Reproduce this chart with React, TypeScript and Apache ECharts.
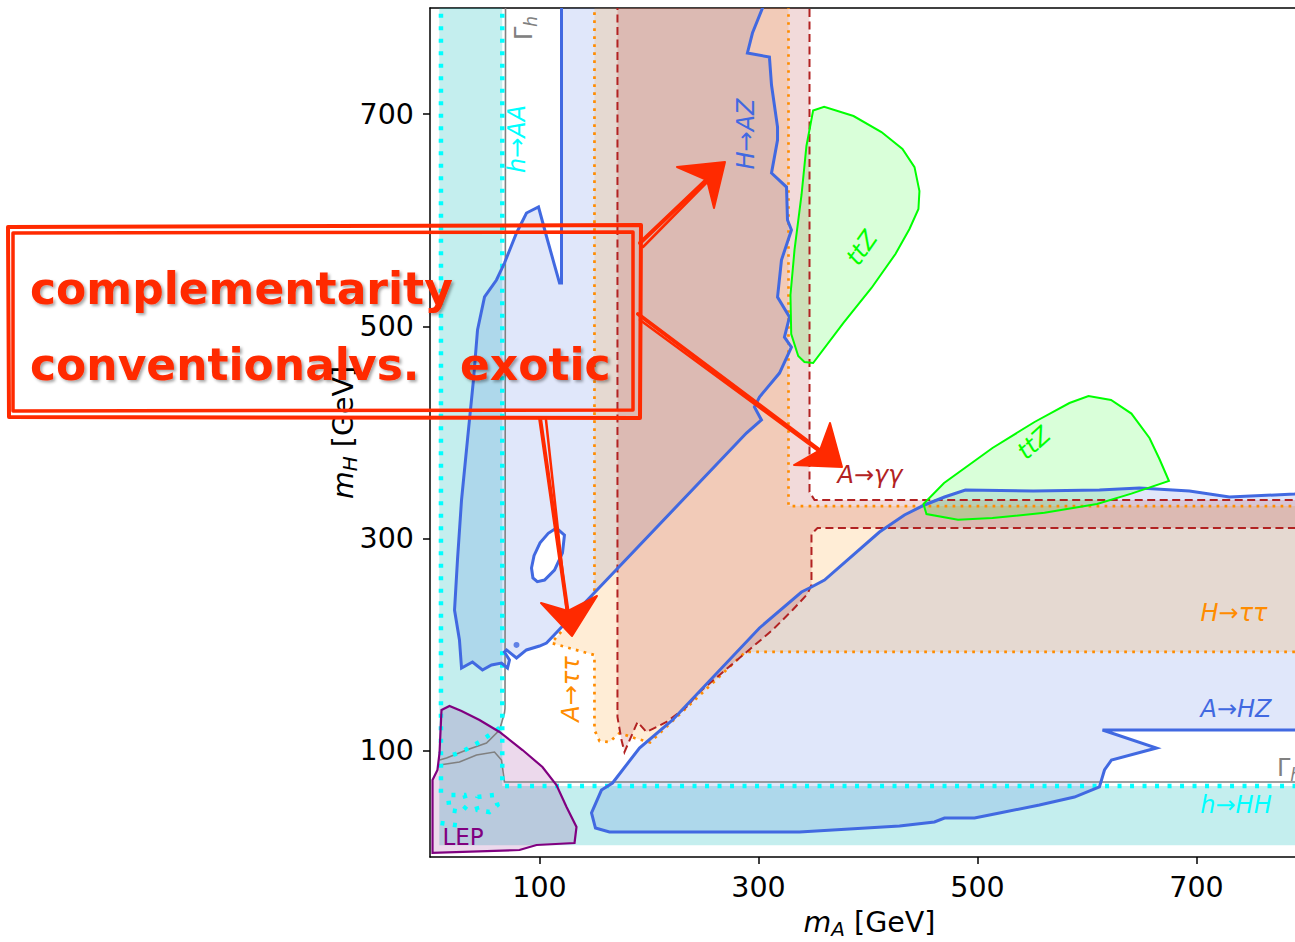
import React, { useEffect, useRef } from 'react';
import * as echarts from 'echarts';

// ---------- axis ticks ----------
const xTickValues = [100, 300, 500, 700];
const yTickValues = [100, 300, 500, 700];

// ---------- regions in (m_A, m_H) [GeV] ----------
// h -> AA / h -> HH (cyan)
const cyanFill = [[8.5, 11], [830, 11], [830, 67], [66, 67], [66, 830], [8.5, 830]];
const cyanEdgeRight = [[66, 830], [66, 67], [830, 67]];
const cyanEdgeLeft = [[10, 830], [10, 60]];
const cyanDiag = [[63.5, 121.6], [45.2, 108.4], [28.8, 98.9], [15.1, 94.2]];
const cyanLoopA = [[19.6, 58.4], [31.5, 58.4], [34.2, 49.0], [28.8, 42.4], [17.8, 44.3], [16.9, 53.7], [19.6, 58.4]];
const cyanLoopB = [[43.4, 56.5], [58.9, 58.4], [61.6, 49.0], [54.3, 42.4], [43.4, 44.3], [41.6, 50.9], [43.4, 56.5]];
const cyanBottom = [[9.6, 32], [28.8, 29.2]];

// Gamma_h (gray)
const gammaV = [[69, 830], [68.5, 140], [68, 135.7], [63.5, 119.7], [51.6, 107.4], [33.3, 100.8], [15.1, 93.3], [8.7, 91.4]];
const gammaH = [[8.7, 86.7], [26.9, 89.5], [42.5, 96.1], [58.9, 98.9], [65.3, 91.4], [68, 70.7], [830, 70.7]];

// H -> AZ (blue)
const hazRegion = [
  [120.1, 830], [315.4, 830], [303.7, 800], [294.5, 776.4], [289.9, 757.6], [310.0, 753.8], [311.9, 727.4],
  [317.4, 687.8], [317.4, 675.6], [311.9, 644.5], [325.6, 631.3], [326.5, 600.2], [330.1, 590.8], [321.0, 562.5],
  [317.4, 527.6], [328.3, 508.8], [323.7, 489.9], [330.1, 480.5], [319.2, 456.0], [300.9, 433.4], [296.3, 424.0],
  [302.7, 411.8], [289.0, 399.5], [106.4, 201.6], [100, 198.8], [88.1, 195.1], [79.0, 187.5], [69.9, 195.1],
  [68.0, 193.2], [72.6, 185.6], [70.8, 178.1], [65.3, 182.8], [56.2, 180.9], [47.9, 176.2], [38.8, 183.7],
  [28.8, 178.1], [26.9, 204.5], [22.4, 232.7], [25.1, 279.9], [28.8, 336.4], [34.2, 392.9], [39.7, 449.5],
  [43.4, 496.6], [49.8, 527.7], [60.7, 543.7], [68.0, 559.7], [79.0, 588.0], [88.1, 606.8], [99.1, 612.5],
  [107.3, 581.4], [113.7, 557.8], [118.3, 540.9], [120.1, 540.9],
];
const hazHole = [[115.5, 310.0], [108, 305], [100.5, 296], [95, 284], [92.7, 272.3], [94, 263], [98, 259.5], [104.6, 261.0], [113.7, 270.4], [121.0, 286.5], [122.8, 303.4]];
const hazDot = [[79, 199.8]];

// A -> HZ (blue)
const ahzRegion = [
  [147.5, 41.5], [151.1, 27.3], [163.9, 23.6], [200.5, 23.6], [337.4, 23.6], [428.8, 29.2], [460.7, 33.0],
  [469.9, 36.7], [497.3, 36.7], [520.1, 41.5], [556.6, 49.0], [588.6, 56.5], [611.4, 66.0], [616.0, 82.0],
  [622.4, 91.4], [663.5, 102.7], [614.2, 119.7], [830, 119.7], [830, 346.0], [789.5, 342.0], [730.1, 339.2],
  [693.6, 344.9], [647.9, 347.7], [611.4, 345.8], [551.1, 344.9], [489.0, 345.8], [469.9, 339.2], [451.6, 331.7],
  [433.3, 322.3], [410.5, 306.2], [360.3, 261.0], [348.4, 254.4], [339.3, 249.7], [300.9, 215.8], [221.5, 129.1],
  [191.3, 102.7], [166.7, 69.7], [156.6, 63.1],
];

// A -> tautau / H -> tautau (orange)
const tautauRegion = [
  [150.2, 830], [327.4, 830], [327.4, 330.7], [830, 330.7], [830, 193.2], [288, 193.2], [201, 108],
  [186.8, 112.1], [173.1, 116.8], [163.9, 108.4], [154.8, 109.3], [150.2, 119.7], [150.2, 190.3],
  [111.0, 201.6], [150.2, 248.8],
];

// A -> gamma gamma (dark red)
const gamgamRegion = [
  [171.2, 830], [346.6, 830], [346.6, 343.9], [351.2, 336.4], [830, 336.4], [830, 310.0], [353.9, 310.0],
  [348.4, 304.4], [348.4, 256.3], [344.7, 247.8], [331.1, 232.7], [312.8, 213.9], [246.1, 155.5],
  [234.2, 141.3], [216.0, 127.2], [197.7, 117.8], [189.5, 127.2], [177.6, 98.9], [174.9, 110.2], [171.2, 131.9],
];

// LEP (purple)
const lepRegion = [
  [10.5, 138.5], [17.8, 142.3], [28.8, 137.6], [45.2, 129.1], [63.5, 117.8], [84.5, 100.8], [102.7, 84.8],
  [115.5, 67.8], [124.7, 47.1], [133.8, 28.3], [132.0, 13.2], [97.3, 11.3], [81.7, 6.6], [2.3, 3.8],
  [2.3, 72.6], [6.8, 82.0], [8.7, 98.0],
];

// ttZ (green)
const ttzUpper = [
  [349.9, 703.4], [360.0, 707.0], [386.8, 698.2], [412.3, 683.1], [431.5, 667.1], [442.5, 650.1], [447.0, 627.6],
  [446.1, 610.6], [437.9, 591.8], [425.1, 568.2], [403.2, 536.2], [377.6, 503.2], [349.9, 465.5], [342, 466.4],
  [336.3, 472.1], [329.9, 492.8], [329.2, 529.6], [332.9, 572.0], [339.3, 623.8], [343.8, 670.0],
];
const ttzLower = [
  [450.7, 332.6], [469.5, 352.4], [513.7, 385.4], [552.1, 409.9], [584.0, 427.8], [601.4, 434.4], [622.0, 430.6],
  [640.6, 417.8], [657.1, 394.8], [666.2, 375.0], [674.9, 354.3], [640.6, 342.4], [609.2, 332.6], [561.2, 324.4],
  [513.7, 319.4], [482.2, 317.9], [453.4, 323.2],
];

const FONT = 'DejaVu Sans';
const BLUE = '#4169e1';
const ORANGE = '#ff8c00';
const FIRE = '#b22222';
const LIME = '#00ff00';
const CYAN = '#00ffff';
const PURPLE = '#800080';
const GRAY = '#808080';
const RED = '#ff2a00';

function shapeSeries(pts: number[][], kind: 'polygon' | 'polyline', style: any, z: number) {
  return {
    type: 'custom',
    coordinateSystem: 'cartesian2d',
    clip: true,
    silent: true,
    z,
    data: [[400, 400]],
    renderItem: (_params: any, api: any) => ({
      type: kind,
      shape: { points: pts.map((p) => api.coord(p)) },
      style,
    }),
  };
}
const fillS = (pts: number[][], fill: string) => shapeSeries(pts, 'polygon', { fill, stroke: 'none' }, 2);
const edgeS = (pts: number[][], stroke: string, lineWidth: number, lineDash: number[] | null, closed: boolean, z = 3) =>
  shapeSeries(pts, closed ? 'polygon' : 'polyline', { fill: 'none', stroke, lineWidth, lineDash: lineDash || undefined }, z);

function label(text: string, x: number, y: number, color: string, rotDeg = 0, italic = true, size = 24, rich?: any) {
  return {
    type: 'text', x, y, z: 50, silent: true,
    rotation: (rotDeg * Math.PI) / 180,
    style: {
      text, fill: color, fontSize: size, fontFamily: FONT, fontStyle: italic ? 'italic' : 'normal',
      align: 'center', verticalAlign: 'middle', rich,
    },
  };
}
function redLine(points: number[][], w = 4) {
  return { type: 'polyline', z: 60, silent: true, shape: { points }, style: { stroke: RED, lineWidth: w, fill: 'none', lineJoin: 'round', lineCap: 'round' } };
}
function redHead(points: number[][]) {
  return { type: 'polygon', z: 60, silent: true, shape: { points }, style: { fill: RED, stroke: RED, lineWidth: 2, lineJoin: 'round' } };
}
function redText(text: string, x: number, y: number) {
  return {
    type: 'text', x, y, z: 70, silent: true,
    style: {
      text, fill: RED, fontSize: 44, fontWeight: 'bold', fontFamily: '"Comic Sans MS", "DejaVu Sans"',
      align: 'left', verticalAlign: 'middle',
      textShadowColor: 'rgba(0,0,0,0.35)', textShadowBlur: 3, textShadowOffsetX: 2, textShadowOffsetY: 2,
    },
  };
}

const gammaRich = {
  g: { fontSize: 24, fontFamily: FONT, color: GRAY, lineHeight: 30, verticalAlign: 'middle' },
  s: { fontSize: 17, fontFamily: FONT, fontStyle: 'italic', color: GRAY, lineHeight: 17, verticalAlign: 'bottom' },
};
const nameRich = {
  i: { fontSize: 28.5, fontStyle: 'italic', fontFamily: FONT, color: '#000', lineHeight: 34, verticalAlign: 'middle' },
  s: { fontSize: 20, fontStyle: 'italic', fontFamily: FONT, color: '#000', lineHeight: 22, verticalAlign: 'bottom' },
  n: { fontSize: 28.5, fontFamily: FONT, color: '#000', lineHeight: 34, verticalAlign: 'middle' },
};

export default function App() {
  const ref = useRef<HTMLDivElement>(null);
  useEffect(() => {
    if (!ref.current) return;
    const chart = echarts.init(ref.current, null, { renderer: 'svg' });
    const axisCommon = {
      type: 'value', min: 0,
      splitLine: { show: false },
      axisLine: { show: true, onZero: false, lineStyle: { color: '#000', width: 1.5 } },
      axisTick: { show: true, length: 7, lineStyle: { color: '#000', width: 1.5 } },
      axisLabel: { fontSize: 28.5, color: '#000', fontFamily: FONT },
      nameLocation: 'middle',
      nameMoveOverlap: false,
    };
    const option: any = {
      animation: false,
      backgroundColor: '#fff',
      grid: { left: 430, right: 0, top: 8, bottom: 85, show: false, containLabel: false, outerBoundsMode: 'none' },
      xAxis: [
        {
          ...axisCommon,
          max: 790,
          axisTick: { ...axisCommon.axisTick, customValues: xTickValues },
          axisLabel: { ...axisCommon.axisLabel, margin: 16, customValues: xTickValues },
          name: '{i|m}{s|A}{n| [GeV]}',
          nameGap: 48,
          nameTextStyle: { fontSize: 28.5, fontFamily: FONT, color: '#000', padding: [0, 0, 0, 14], rich: nameRich },
        },
        {
          type: 'value', min: 0, max: 790, position: 'top',
          axisLine: { show: true, onZero: false, lineStyle: { color: '#000', width: 1.5 } },
          axisTick: { show: false }, axisLabel: { show: false }, splitLine: { show: false },
        },
      ],
      yAxis: {
        ...axisCommon,
        max: 800,
        axisTick: { ...axisCommon.axisTick, customValues: yTickValues },
        axisLabel: { ...axisCommon.axisLabel, margin: 16, customValues: yTickValues },
        name: '{i|m}{s|H}{n| [GeV]}',
        nameGap: 70,
        nameTextStyle: { fontSize: 28.5, fontFamily: FONT, color: '#000', rich: nameRich },
      },
      series: [
        fillS(cyanFill, 'rgba(0,180,180,0.23)'),
        fillS(hazRegion, 'rgba(65,105,225,0.16)'),
        fillS(ahzRegion, 'rgba(65,105,225,0.16)'),
        fillS(tautauRegion, 'rgba(255,140,0,0.16)'),
        fillS(gamgamRegion, 'rgba(178,34,34,0.17)'),
        fillS(lepRegion, 'rgba(128,0,128,0.15)'),
        fillS(ttzUpper, 'rgba(0,255,0,0.15)'),
        fillS(ttzLower, 'rgba(0,255,0,0.15)'),
        fillS(hazHole, '#ffffff'),
        edgeS(gammaV, GRAY, 1.6, null, false),
        edgeS(gammaH, GRAY, 1.6, null, false),
        edgeS(cyanEdgeRight, CYAN, 4.5, [4, 8.5], false),
        edgeS(cyanEdgeLeft, CYAN, 4.5, [4, 8.5], false),
        edgeS(cyanDiag, CYAN, 4.5, [4, 8.5], false),
        edgeS(cyanLoopA, CYAN, 4.5, [4, 8.5], false),
        edgeS(cyanLoopB, CYAN, 4.5, [4, 8.5], false),
        edgeS(cyanBottom, CYAN, 4.5, [4, 8.5], false),
        edgeS(tautauRegion, ORANGE, 2.7, [2.7, 5.3], true),
        edgeS(gamgamRegion, FIRE, 2, [8, 4.5], true),
        edgeS(hazRegion, BLUE, 3, null, true, 4),
        edgeS(hazHole, BLUE, 3, null, true, 4),
        edgeS(ahzRegion, BLUE, 3, null, true, 4),
        edgeS(lepRegion, PURPLE, 2.2, null, true, 4),
        edgeS(ttzUpper, LIME, 2, null, true, 5),
        edgeS(ttzLower, LIME, 2, null, true, 5),
        {
          type: 'scatter', data: hazDot, symbolSize: 6, z: 4, silent: true,
          itemStyle: { color: BLUE },
        },
      ],
      graphic: [
        label('h→AA', 517, 139, CYAN, 90),
        label('{g|Γ}{s|h}', 524, 28, GRAY, 90, false, 24, gammaRich),
        label('H→AZ', 746, 134, BLUE, 90),
        label('A→ττ', 571, 689, ORANGE, 90),
        label('ttZ', 862, 248, LIME, 55, true, 24),
        label('ttZ', 1034, 443, LIME, 42, true, 24),
        label('A→γγ', 870, 475, FIRE, 0),
        label('H→ττ', 1234, 613, ORANGE, 0),
        label('A→HZ', 1236, 709, BLUE, 0),
        label('h→HH', 1236, 805, CYAN, 0),
        label('LEP', 463, 837, PURPLE, 0, false, 23),
        {
          type: 'text', x: 1277, y: 768, z: 50, silent: true,
          style: { text: '{g|Γ}{s|h}', align: 'left', verticalAlign: 'middle', rich: gammaRich, fontSize: 24, fontFamily: FONT, fill: GRAY },
        },
        // annotation box
        redLine([[8, 227], [641, 225], [640, 418], [9, 417], [8, 227]], 4),
        redLine([[13, 233], [633, 232], [633, 410], [13, 411], [13, 233]], 3.5),
        // arrows
        redLine([[640, 243], [720, 167]], 4),
        redLine([[643, 247], [716, 173]], 2.5),
        redHead([[725, 162], [677, 167], [707, 180], [714, 208]]),
        redLine([[638, 314], [834, 461]], 4),
        redLine([[640, 320], [828, 458]], 2.5),
        redHead([[842, 467], [830, 423], [820, 450], [794, 465]]),
        redLine([[540, 418], [570, 628]], 4),
        redLine([[546, 420], [568, 622]], 2.5),
        redHead([[572, 636], [541, 603], [568, 611], [597, 596]]),
        redText('complementarity', 30, 288),
        redText('conventional', 30, 364),
        redText('vs.', 348, 364),
        redText('exotic', 460, 364),
      ],
    };
    chart.setOption(option);
    return () => chart.dispose();
  }, []);
  return <div ref={ref} style={{ position: 'fixed', left: 0, top: 0, width: 1295, height: 942, background: '#fff' }} />;
}
